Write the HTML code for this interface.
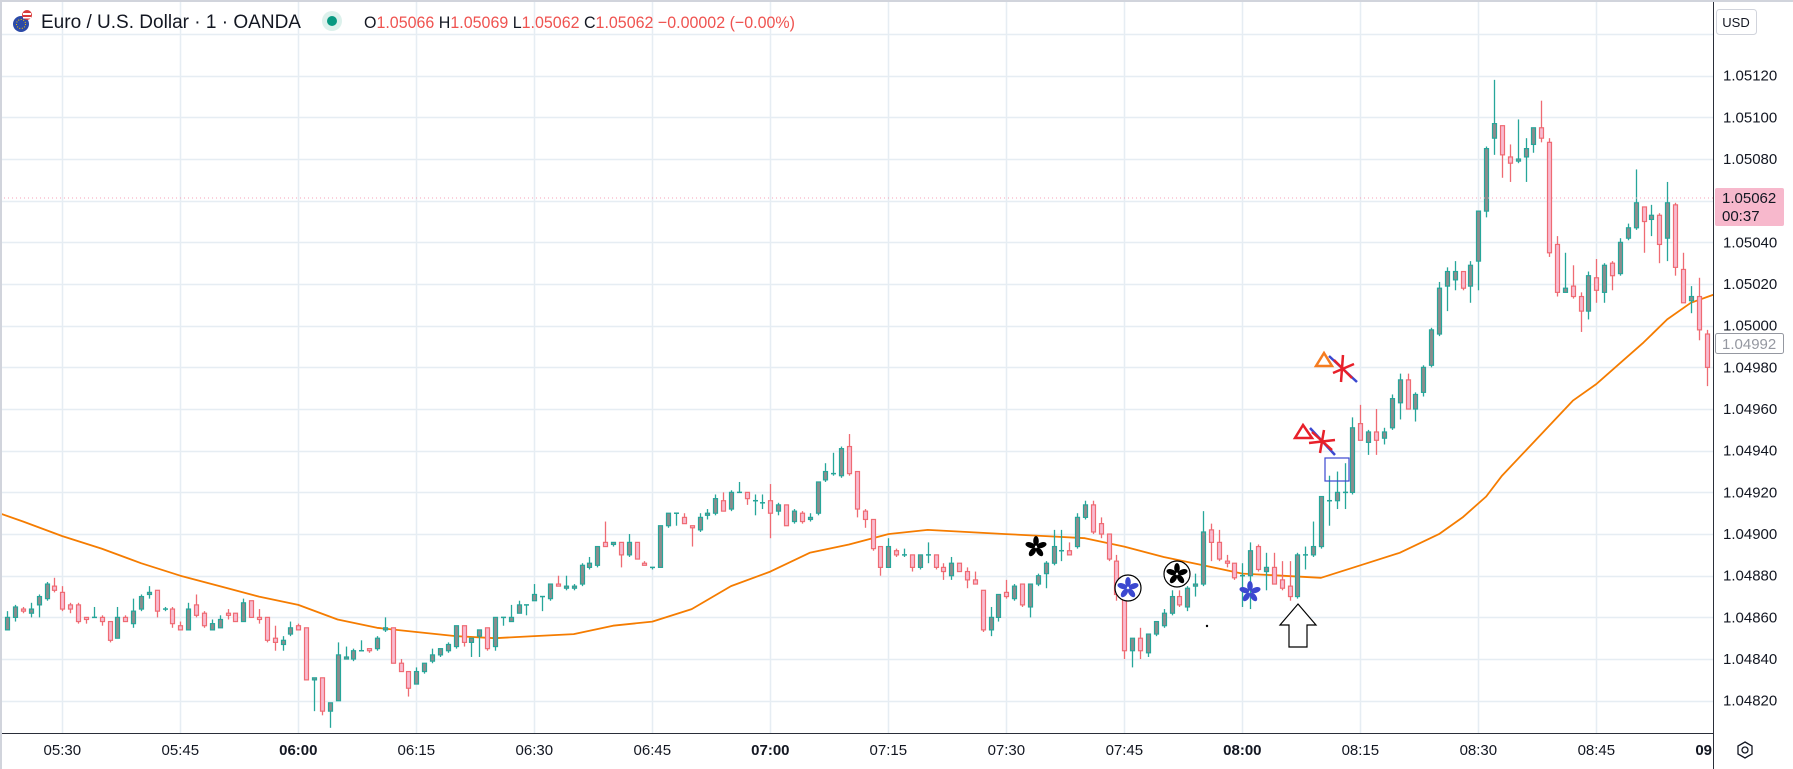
<!DOCTYPE html>
<html><head><meta charset="utf-8"><style>
html,body{margin:0;padding:0;background:#fff;width:1793px;height:769px;overflow:hidden}
svg{display:block;font-family:"Liberation Sans",sans-serif}
</style></head><body>
<svg id="chart" width="1793" height="769" viewBox="0 0 1793 769" xmlns="http://www.w3.org/2000/svg">
<defs>
  <g id="petalsBlack"><ellipse cx="0" cy="-6" rx="2.8" ry="5" fill="#000"/><ellipse cx="0" cy="-6" rx="2.8" ry="5" fill="#000" transform="rotate(72)"/><ellipse cx="0" cy="-6" rx="2.8" ry="5" fill="#000" transform="rotate(144)"/><ellipse cx="0" cy="-6" rx="2.8" ry="5" fill="#000" transform="rotate(216)"/><ellipse cx="0" cy="-6" rx="2.8" ry="5" fill="#000" transform="rotate(288)"/></g>
  <g id="petalsBlue"><ellipse cx="0" cy="-6" rx="2.8" ry="5" fill="#3b48d0"/><ellipse cx="0" cy="-6" rx="2.8" ry="5" fill="#3b48d0" transform="rotate(72)"/><ellipse cx="0" cy="-6" rx="2.8" ry="5" fill="#3b48d0" transform="rotate(144)"/><ellipse cx="0" cy="-6" rx="2.8" ry="5" fill="#3b48d0" transform="rotate(216)"/><ellipse cx="0" cy="-6" rx="2.8" ry="5" fill="#3b48d0" transform="rotate(288)"/></g>
</defs>
<rect x="0" y="0" width="1793" height="769" fill="#ffffff"/>
<g id="grid"></g>
<g id="ema"></g>
<g id="candles"></g>
<line x1="0" y1="198" x2="1713" y2="198" stroke="#f7a1b8" stroke-width="1" stroke-dasharray="1,3"/>
<g>
  <g transform="translate(1036,547)">
    <use href="#petalsBlack"/>
  </g>
  <g transform="translate(1128,588)">
    <circle r="13" fill="#fff" stroke="#000" stroke-width="1.2"/>
    <use href="#petalsBlue"/>
  </g>
  <g transform="translate(1177,574)">
    <circle r="13" fill="#fff" stroke="#000" stroke-width="1.2"/>
    <use href="#petalsBlack"/>
  </g>
  <g transform="translate(1250,592)">
    <use href="#petalsBlue"/>
  </g>
  <circle cx="1207" cy="626" r="1.2" fill="#000"/>
  <polygon points="1298,604 1316,625 1307,625 1307,647 1289,647 1289,625 1280,625" fill="#fff" stroke="#000" stroke-width="1.2"/>
  <rect x="1325" y="458" width="24" height="23" fill="none" stroke="#3b48d0" stroke-width="1.2"/>
  <polygon points="1303,425 1312,438 1295,438" fill="none" stroke="#e8202a" stroke-width="2.5"/>
  <line x1="1310" y1="428" x2="1335" y2="455" stroke="#3b48d0" stroke-width="2.5"/>
  <g stroke="#e8202a" stroke-width="2.5">
    <line x1="1309" y1="443" x2="1335" y2="440"/><line x1="1324" y1="430" x2="1320" y2="453"/><line x1="1312" y1="432" x2="1332" y2="450"/>
  </g>
  <polygon points="1324,353 1332,366 1316,366" fill="none" stroke="#f57c20" stroke-width="2.5"/>
  <line x1="1329" y1="356" x2="1357" y2="382" stroke="#3b48d0" stroke-width="2.5"/>
  <g stroke="#e8202a" stroke-width="2.5">
    <line x1="1333" y1="373" x2="1354" y2="364"/><line x1="1343" y1="355" x2="1341" y2="382"/><line x1="1334" y1="360" x2="1352" y2="378"/>
  </g>
</g>
<rect x="1713" y="0" width="80" height="769" fill="#fff"/>
<rect x="0" y="733" width="1713" height="36" fill="#fff"/>
<line x1="1713.5" y1="0" x2="1713.5" y2="769" stroke="#2a2e39" stroke-width="1"/>
<line x1="0" y1="733.5" x2="1713" y2="733.5" stroke="#2a2e39" stroke-width="1"/>
<rect x="0" y="0" width="2" height="769" fill="#d1d4dc"/>
<rect x="0" y="0" width="1793" height="2" fill="#d1d4dc"/>
<g id="yticks"></g>
<g id="xticks"></g>
<g>
  <rect x="1715" y="188" width="69" height="38" rx="2" fill="#f7b8cc"/>
  <text x="1722" y="203" font-size="15" fill="#131722">1.05062</text>
  <text x="1722" y="221" font-size="15" fill="#131722">00:37</text>
</g>
<g>
  <rect x="1715.5" y="333.5" width="68" height="20" rx="2" fill="#fff" stroke="#9598a1"/>
  <text x="1722" y="349" font-size="15" fill="#9598a1">1.04992</text>
</g>
<g>
  <rect x="1716.5" y="9.5" width="40" height="25" rx="3" fill="#fff" stroke="#d1d4dc"/>
  <text x="1736" y="27" font-size="13" text-anchor="middle" fill="#131722">USD</text>
</g>
<g transform="translate(1745,750)">
  <polygon points="0,-8 7,-4 7,4 0,8 -7,4 -7,-4" fill="none" stroke="#131722" stroke-width="1.3"/>
  <circle r="3" fill="none" stroke="#131722" stroke-width="1.3"/>
</g>
<g>
  <g>
    <circle cx="21" cy="24" r="8" fill="#2b4aa8"/>
    <circle cx="27" cy="15" r="5" fill="#d93b3b"/>
    <rect x="23" y="13" width="8" height="2" fill="#fff"/>
    <rect x="23" y="17" width="8" height="1.5" fill="#fff"/>
    <circle cx="21" cy="24" r="4.5" fill="none" stroke="#f5c400" stroke-width="1" stroke-dasharray="1,1.6"/>
  </g>
  <text x="41" y="28" font-size="19" fill="#131722" textLength="260" lengthAdjust="spacingAndGlyphs">Euro / U.S. Dollar · 1 · OANDA</text>
  <circle cx="332" cy="21" r="10" fill="#dcf1ec"/>
  <circle cx="332" cy="21" r="5" fill="#089981"/>
  <text x="364" y="28" font-size="17" fill="#ef5350" textLength="431" lengthAdjust="spacingAndGlyphs"><tspan fill="#131722">O</tspan>1.05066 <tspan fill="#131722">H</tspan>1.05069 <tspan fill="#131722">L</tspan>1.05062 <tspan fill="#131722">C</tspan>1.05062 −0.00002 (−0.00%)</text>
</g>
</svg>
<script>
const startMinute = -7; // 05:23, minutes relative to 05:30
const opens = [
1.04854,1.04860,1.04864,1.04862,1.04866,1.04869,1.04875,1.04872,1.04866,1.04866,
1.04860,1.04860,1.04860,1.04858,1.04850,1.04860,1.04857,1.04864,1.04871,1.04873,
1.04864,1.04864,1.04856,1.04854,1.04866,1.04862,1.04854,1.04855,1.04862,1.04862,
1.04858,1.04868,1.04860,1.04860,1.04850,1.04847,1.04852,1.04856,1.04855,1.04830,
1.04831,1.04815,1.04820,1.04840,1.04840,1.04844,1.04845,1.04845,1.04854,1.04855,
1.04838,1.04834,1.04828,1.04834,1.04839,1.04842,1.04844,1.04846,1.04856,1.04848,
1.04851,1.04855,1.04846,1.04860,1.04858,1.04862,1.04866,1.04868,1.04870,1.04869,
1.04876,1.04874,1.04874,1.04876,1.04884,1.04885,1.04896,1.04895,1.04896,1.04890,
1.04896,1.04886,1.04884,1.04884,1.04904,1.04910,1.04908,1.04904,1.04902,1.04909,
1.04910,1.04916,1.04912,1.04920,1.04920,1.04916,1.04915,1.04916,1.04911,1.04914,
1.04906,1.04910,1.04907,1.04910,1.04926,1.04929,1.04928,1.04942,1.04930,1.04911,
1.04907,1.04894,1.04884,1.04892,1.04890,1.04890,1.04884,1.04890,1.04890,1.04884,
1.04880,1.04886,1.04882,1.04878,1.04873,1.04854,1.04860,1.04872,1.04869,1.04876,
1.04865,1.04876,1.04881,1.04886,1.04892,1.04892,1.04894,1.04908,1.04914,1.04905,
1.04900,1.04887,1.04869,1.04844,1.04850,1.04843,1.04852,1.04856,1.04862,1.04870,
1.04865,1.04875,1.04876,1.04902,1.04896,1.04887,1.04886,1.04880,1.04880,1.04894,
1.04882,1.04884,1.04878,1.04875,1.04870,1.04890,1.04890,1.04894,1.04916,1.04916,
1.04920,1.04920,1.04953,1.04944,1.04949,1.04946,1.04951,1.04963,1.04974,1.04960,
1.04968,1.04981,1.04996,1.05019,1.05022,1.05026,1.05019,1.05031,1.05055,1.05090,
1.05096,1.05081,1.05079,1.05081,1.05087,1.05095,1.05088,1.05039,1.05016,1.05019,
1.05014,1.05007,1.05023,1.05016,1.05030,1.05025,1.05042,1.05047,1.05057,1.05051,
1.05053,1.05042,1.05058,1.05027,1.05012,1.05014,1.04996
];
const highs = [
1.04863,1.04866,1.04865,1.04867,1.04871,1.04877,1.04879,1.04875,1.04867,1.04867,
1.04860,1.04865,1.04861,1.04858,1.04865,1.04861,1.04869,1.04871,1.04875,1.04873,
1.04865,1.04865,1.04858,1.04867,1.04871,1.04863,1.04859,1.04861,1.04864,1.04862,
1.04869,1.04868,1.04864,1.04860,1.04856,1.04851,1.04858,1.04857,1.04855,1.04831,
1.04831,1.04819,1.04848,1.04846,1.04845,1.04849,1.04845,1.04851,1.04860,1.04855,
1.04840,1.04834,1.04836,1.04838,1.04845,1.04845,1.04848,1.04856,1.04856,1.04850,
1.04854,1.04855,1.04860,1.04860,1.04866,1.04868,1.04866,1.04876,1.04870,1.04876,
1.04880,1.04880,1.04876,1.04886,1.04889,1.04894,1.04906,1.04896,1.04896,1.04900,
1.04896,1.04887,1.04884,1.04904,1.04910,1.04910,1.04910,1.04904,1.04910,1.04912,
1.04919,1.04920,1.04921,1.04925,1.04920,1.04919,1.04919,1.04924,1.04915,1.04914,
1.04912,1.04911,1.04910,1.04925,1.04934,1.04939,1.04942,1.04948,1.04930,1.04912,
1.04907,1.04894,1.04898,1.04893,1.04893,1.04890,1.04890,1.04896,1.04890,1.04886,
1.04889,1.04886,1.04884,1.04882,1.04873,1.04865,1.04871,1.04878,1.04876,1.04876,
1.04876,1.04881,1.04887,1.04902,1.04902,1.04896,1.04910,1.04916,1.04916,1.04908,
1.04900,1.04890,1.04871,1.04850,1.04855,1.04852,1.04858,1.04864,1.04873,1.04873,
1.04875,1.04881,1.04911,1.04905,1.04902,1.04890,1.04886,1.04886,1.04896,1.04895,
1.04891,1.04891,1.04887,1.04887,1.04891,1.04894,1.04906,1.04918,1.04928,1.04930,
1.04934,1.04956,1.04962,1.04950,1.04960,1.04951,1.04967,1.04977,1.04977,1.04968,
1.04981,1.04999,1.05021,1.05028,1.05031,1.05026,1.05031,1.05055,1.05086,1.05118,
1.05096,1.05087,1.05099,1.05090,1.05095,1.05108,1.05090,1.05043,1.05035,1.05029,
1.05016,1.05026,1.05032,1.05030,1.05031,1.05042,1.05049,1.05075,1.05057,1.05058,
1.05054,1.05069,1.05059,1.05035,1.05019,1.05023,1.04998
];
const lows = [
1.04854,1.04858,1.04862,1.04860,1.04860,1.04868,1.04872,1.04863,1.04862,1.04857,
1.04857,1.04860,1.04856,1.04848,1.04850,1.04858,1.04855,1.04863,1.04869,1.04860,
1.04863,1.04855,1.04854,1.04854,1.04860,1.04855,1.04854,1.04855,1.04859,1.04858,
1.04858,1.04860,1.04857,1.04848,1.04844,1.04844,1.04851,1.04854,1.04830,1.04815,
1.04813,1.04807,1.04820,1.04840,1.04839,1.04844,1.04843,1.04844,1.04853,1.04838,
1.04834,1.04822,1.04828,1.04833,1.04838,1.04841,1.04843,1.04845,1.04846,1.04841,
1.04841,1.04844,1.04844,1.04856,1.04858,1.04862,1.04861,1.04868,1.04863,1.04868,
1.04875,1.04873,1.04873,1.04875,1.04883,1.04884,1.04894,1.04894,1.04884,1.04889,
1.04888,1.04885,1.04883,1.04884,1.04903,1.04904,1.04905,1.04894,1.04901,1.04907,
1.04909,1.04911,1.04911,1.04920,1.04914,1.04909,1.04912,1.04898,1.04909,1.04904,
1.04905,1.04905,1.04906,1.04909,1.04925,1.04928,1.04927,1.04928,1.04908,1.04903,
1.04892,1.04880,1.04884,1.04889,1.04889,1.04882,1.04883,1.04886,1.04883,1.04878,
1.04878,1.04882,1.04874,1.04876,1.04853,1.04851,1.04858,1.04869,1.04868,1.04865,
1.04860,1.04875,1.04874,1.04885,1.04887,1.04890,1.04893,1.04907,1.04900,1.04898,
1.04887,1.04868,1.04840,1.04836,1.04840,1.04841,1.04851,1.04855,1.04861,1.04865,
1.04863,1.04870,1.04875,1.04887,1.04887,1.04884,1.04878,1.04865,1.04864,1.04882,
1.04873,1.04876,1.04873,1.04868,1.04869,1.04883,1.04889,1.04893,1.04904,1.04912,
1.04912,1.04919,1.04945,1.04938,1.04938,1.04943,1.04950,1.04955,1.04960,1.04954,
1.04966,1.04980,1.04995,1.05007,1.05017,1.05017,1.05011,1.05017,1.05052,1.05082,
1.05071,1.05069,1.05078,1.05069,1.05083,1.05088,1.05033,1.05014,1.05016,1.05013,
1.04997,1.05003,1.05011,1.05011,1.05017,1.05024,1.05041,1.05046,1.05035,1.05043,
1.05030,1.05031,1.05024,1.05011,1.05006,1.04993,1.04971
];
const closes = [
1.04860,1.04865,1.04863,1.04864,1.04870,1.04876,1.04873,1.04864,1.04864,1.04858,
1.04859,1.04860,1.04858,1.04849,1.04860,1.04858,1.04863,1.04870,1.04872,1.04863,
1.04864,1.04857,1.04854,1.04864,1.04861,1.04856,1.04857,1.04859,1.04861,1.04858,
1.04867,1.04860,1.04859,1.04849,1.04848,1.04849,1.04855,1.04854,1.04830,1.04831,
1.04815,1.04819,1.04842,1.04841,1.04844,1.04844,1.04844,1.04850,1.04855,1.04838,
1.04834,1.04826,1.04834,1.04838,1.04842,1.04845,1.04847,1.04856,1.04848,1.04850,
1.04854,1.04845,1.04860,1.04860,1.04860,1.04866,1.04866,1.04871,1.04870,1.04876,
1.04875,1.04875,1.04875,1.04885,1.04886,1.04894,1.04894,1.04896,1.04890,1.04896,
1.04888,1.04885,1.04884,1.04904,1.04910,1.04910,1.04905,1.04903,1.04908,1.04910,
1.04917,1.04911,1.04920,1.04920,1.04917,1.04916,1.04915,1.04910,1.04914,1.04904,
1.04911,1.04906,1.04908,1.04925,1.04930,1.04929,1.04941,1.04929,1.04912,1.04907,
1.04893,1.04884,1.04894,1.04890,1.04890,1.04884,1.04890,1.04890,1.04884,1.04882,
1.04886,1.04882,1.04878,1.04876,1.04854,1.04860,1.04871,1.04870,1.04875,1.04866,
1.04876,1.04880,1.04886,1.04894,1.04892,1.04890,1.04908,1.04914,1.04901,1.04900,
1.04888,1.04871,1.04844,1.04850,1.04844,1.04852,1.04858,1.04862,1.04870,1.04866,
1.04874,1.04876,1.04901,1.04896,1.04888,1.04886,1.04879,1.04880,1.04892,1.04883,
1.04884,1.04876,1.04874,1.04870,1.04890,1.04890,1.04894,1.04918,1.04916,1.04920,
1.04920,1.04951,1.04945,1.04949,1.04945,1.04949,1.04965,1.04974,1.04960,1.04967,
1.04980,1.04998,1.05018,1.05026,1.05026,1.05018,1.05029,1.05055,1.05085,1.05097,
1.05082,1.05078,1.05080,1.05085,1.05095,1.05090,1.05035,1.05016,1.05018,1.05014,
1.05007,1.05024,1.05017,1.05029,1.05024,1.05040,1.05047,1.05059,1.05050,1.05053,
1.05039,1.05059,1.05028,1.05011,1.05014,1.04998,1.04980
];
const emaMinutes = [-8,-5,0,5,10,15,20,25,30,35,40,45,50,55,60,65,70,75,80,85,90,95,100,105,110,115,120,125,130,135,140,145,150,155,160,165,170,175,178,181,183,186,189,192,195,198,201,204,207,210];
const emaValues = [1.04910,1.04906,1.04899,1.04893,1.04886,1.04880,1.04875,1.04870,1.04866,1.04859,1.04855,1.04853,1.04851,1.04850,1.04851,1.04852,1.04856,1.04858,1.04864,1.04875,1.04882,1.04891,1.04895,1.04900,1.04902,1.04901,1.04900,1.04899,1.04898,1.04894,1.04889,1.04885,1.04881,1.04880,1.04879,1.04885,1.04891,1.04900,1.04908,1.04918,1.04928,1.04940,1.04952,1.04964,1.04972,1.04982,1.04992,1.05003,1.05011,1.05015];
const priceTicks = [1.04820,1.04840,1.04860,1.04880,1.04900,1.04920,1.04940,1.04960,1.04980,1.05000,1.05020,1.05040,1.05060,1.05080,1.05100,1.05120,1.05140];
const timeTickMinutes = [0,15,30,45,60,75,90,105,120,135,150,165,180,195,210];
const timeTickLabels = ["05:30","05:45","06:00","06:15","06:30","06:45","07:00","07:15","07:30","07:45","08:00","08:15","08:30","08:45","09"];
const boldTicks = ["06:00","07:00","08:00","09"];

const NS = "http://www.w3.org/2000/svg";
function xOf(m){ return 62.3 + 7.867*m; }
function yOf(p){ return 325.7 - (p - 1.05)/0.0002*41.67; }
function mk(tag, attrs, parent){ const e=document.createElementNS(NS,tag); for(const k in attrs) e.setAttribute(k,attrs[k]); parent.appendChild(e); return e; }

const grid = document.getElementById('grid');
priceTicks.forEach(p=>{
  const y = Math.round(yOf(p))+0.5;
  const l = mk('line',{x1:0,y1:y,x2:1713,y2:y,stroke:'#e6edf3','stroke-width':1.5},grid);
  
  
});
timeTickMinutes.forEach(m=>{
  const x = Math.round(xOf(m))+0.5;
  const l = mk('line',{x1:x,y1:0,x2:x,y2:733,stroke:'#e6edf3','stroke-width':1.5},grid);
  
  
});

const yt = document.getElementById('yticks');
priceTicks.forEach(p=>{
  const y = yOf(p);
  if (y < 45 || y > 725) return;
  const t = mk('text',{x:1723,y:y+5,'font-size':15,fill:'#131722'},yt);
  t.textContent = p.toFixed(5);
  
  
});
const xt = document.getElementById('xticks');
timeTickMinutes.forEach((m,i)=>{
  const lab = timeTickLabels[i];
  const t = mk('text',{x:xOf(m),y:755,'font-size':15,'text-anchor':'middle',fill:'#131722','font-weight':boldTicks.includes(lab)?'bold':'normal'},xt);
  if (lab === "09") { t.setAttribute('text-anchor','end'); t.setAttribute('x',1712); }
  t.textContent = lab;
  
  
});

const emaG = document.getElementById('ema');
const pts = emaMinutes.map((m,i)=>xOf(m).toFixed(1)+','+yOf(emaValues[i]).toFixed(1)).join(' ');
const pl = mk('polyline',{points:pts,fill:'none',stroke:'#f57c00','stroke-width':1.8,'stroke-linejoin':'round'},emaG);



const cg = document.getElementById('candles');
opens.forEach((o,i)=>{
  const c = closes[i], h = highs[i], lo = lows[i];
  const x = Math.round(xOf(startMinute+i));
  const up = c >= o;
  const stroke = up ? '#26a69a' : '#ef6b73';
  const fill = up ? '#8c8c8c' : '#f8bbd0';
  const g = mk('g',{},cg);
  
  
  mk('line',{x1:x+0.5,y1:yOf(h),x2:x+0.5,y2:yOf(lo),stroke:stroke,'stroke-width':1.3},g);
  const yTop = yOf(Math.max(o,c)), yBot = yOf(Math.min(o,c));
  const hgt = Math.max(1.2, yBot-yTop);
  if (yBot - yTop < 1.5) {
    mk('line',{x1:x-2,y1:yTop,x2:x+3,y2:yTop,stroke:stroke,'stroke-width':1.5},g);
  } else {
    mk('rect',{x:x-1.5,y:yTop,width:4,height:hgt,fill:fill,stroke:stroke,'stroke-width':1.2},g);
  }
});
</script>
</body></html>
